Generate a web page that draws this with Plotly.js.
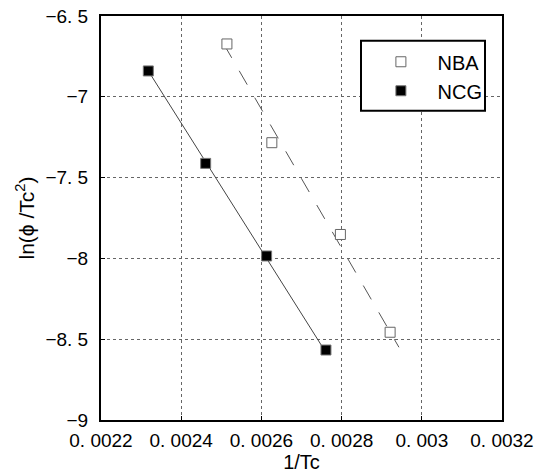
<!DOCTYPE html>
<html>
<head>
<meta charset="utf-8">
<script src="https://cdn.plot.ly/plotly-3.0.1.min.js"></script>
<style>
  html, body { margin: 0; padding: 0; background: #fff; }
  #chart { width: 543px; height: 475px; }
</style>
</head>
<body>
<div id="chart"></div>
<script>
// Kissinger plot: ln(phi/Tc^2) against 1/Tc for the two samples
const nbaX = [0.002514, 0.002626, 0.002797, 0.002921];
const nbaY = [-6.673, -7.284, -7.852, -8.457];
const ncgX = [0.002318, 0.002461, 0.002613, 0.002761];
const ncgY = [-6.840, -7.412, -7.985, -8.567];

// fitted straight lines for each sample
const nbaFitX = [0.002506, 0.002943];
const nbaFitY = [-6.673, -8.550];
const ncgFitX = [0.002318, 0.002757];
const ncgFitY = [-6.840, -8.567];

// axis ticks
const xTickVals = [0.0022, 0.0024, 0.0026, 0.0028, 0.0030, 0.0032];
const xTickText = ['0. 0022', '0. 0024', '0. 0026', '0. 0028', '0. 003', '0. 0032'];
const yTickVals = [-9, -8.5, -8, -7.5, -7, -6.5];
const yTickText = ['−9', '−8. 5', '−8', '−7. 5', '−7', '−6. 5'];

const tickFont = { family: 'Liberation Sans, Arial, sans-serif', size: 19, color: '#000' };
const titleFont = { family: 'Liberation Sans, Arial, sans-serif', size: 20, color: '#000' };

const traces = [
  {
    x: nbaFitX, y: nbaFitY, mode: 'lines', showlegend: false, hoverinfo: 'skip',
    line: { color: '#555', width: 1, dash: '16px,15px' }
  },
  {
    x: ncgFitX, y: ncgFitY, mode: 'lines', showlegend: false, hoverinfo: 'skip',
    line: { color: '#444', width: 1 }
  },
  {
    x: nbaX, y: nbaY, mode: 'markers', name: '\u00a0\u00a0\u00a0NBA', legendgroup: 'a',
    marker: { symbol: 'square', size: 10, color: '#fff', line: { color: '#666', width: 1 } }
  },
  {
    x: ncgX, y: ncgY, mode: 'markers', name: '\u00a0\u00a0\u00a0NCG', legendgroup: 'b',
    marker: { symbol: 'square', size: 10, color: '#000', line: { color: '#777', width: 1 } }
  }
];

const axisCommon = {
  showline: true, mirror: true, linecolor: '#000', linewidth: 2,
  showgrid: true, gridcolor: '#666', gridwidth: 1, griddash: 'dot',
  zeroline: false, ticks: 'inside', ticklen: 4, tickcolor: '#000',
  tickfont: tickFont
};

const layout = {
  width: 543, height: 475,
  margin: { l: 101, r: 41, t: 16, b: 55 },
  paper_bgcolor: '#fff', plot_bgcolor: '#fff',
  xaxis: Object.assign({}, axisCommon, {
    range: [0.0022, 0.0032], tickvals: xTickVals, ticktext: xTickText,
    ticklabelstandoff: 2,
    title: { text: '1/Tc', font: titleFont, standoff: 2 }
  }),
  yaxis: Object.assign({}, axisCommon, {
    range: [-9, -6.5], tickvals: yTickVals, ticktext: yTickText,
    ticklabelstandoff: 7,
    title: { text: 'ln(ϕ /Tc<sup>2</sup>)', font: { family: titleFont.family, size: 21, color: '#000' }, standoff: 5 }
  }),
  showlegend: true,
  legend: {
    x: 0.698, y: 0.935, xanchor: 'left', yanchor: 'top',
    bgcolor: 'rgba(0,0,0,0)', borderwidth: 0, tracegroupgap: 0,
    font: { family: 'Liberation Sans Narrow, Arial Narrow, Liberation Sans, sans-serif', size: 20, color: '#000' }
  },
  shapes: [
    {
      type: 'rect', xref: 'paper', yref: 'paper',
      x0: (361 - 101) / 401, x1: (485 - 101) / 401,
      y0: (420 - 110.7) / 404, y1: (420 - 40.7) / 404,
      line: { color: '#000', width: 2 }, fillcolor: '#fff', layer: 'above'
    }
  ]
};

Plotly.newPlot('chart', traces, layout, { displayModeBar: false, staticPlot: true });
</script>
</body>
</html>
